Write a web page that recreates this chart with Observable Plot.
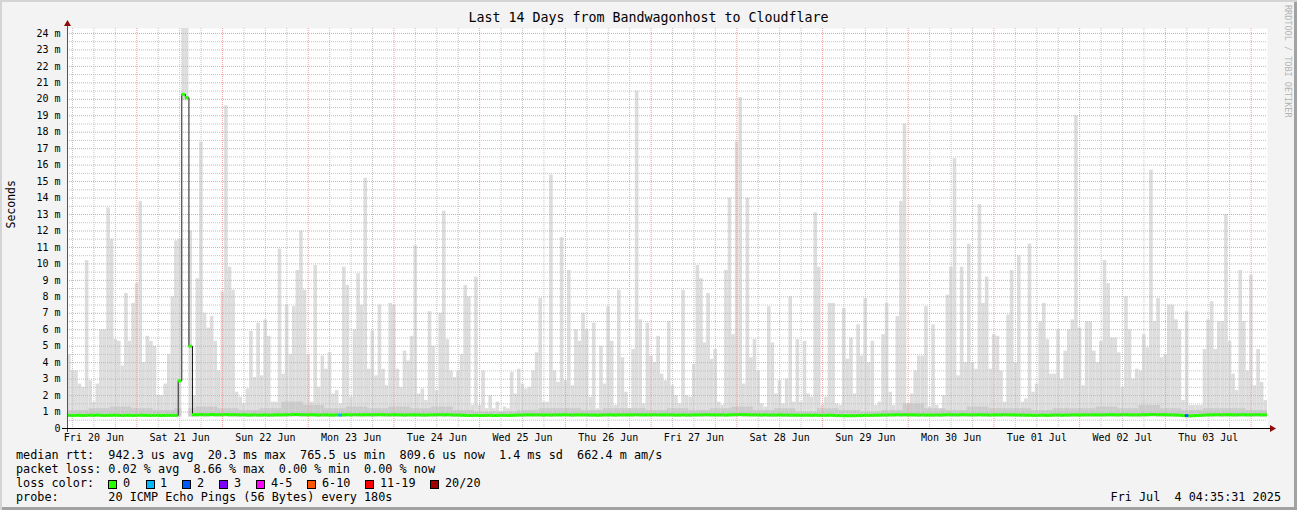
<!DOCTYPE html>
<html><head><meta charset="utf-8">
<script src="https://cdn.jsdelivr.net/npm/d3@7"></script>
<script src="https://cdn.jsdelivr.net/npm/@observablehq/plot@0.6"></script>
<style>
html,body{margin:0;padding:0;background:#f3f3f3;}
#wrap{position:relative;width:1297px;height:510px;background:#f3f3f3;overflow:hidden;
  box-shadow: inset 2px 2px 0 #d4d4d4, inset -3px -3px 0 #a2a2a2;
  font-family:"DejaVu Sans Mono",monospace;color:#000;}
#chart{position:absolute;left:0;top:0;}
.t{position:absolute;white-space:pre;font-size:11.8px;line-height:14px;}
#title{position:absolute;left:0;width:1297px;top:10px;text-align:center;font-size:13.3px;line-height:16px;white-space:pre;}
#rrd{position:absolute;left:1283px;top:5px;writing-mode:vertical-rl;font-size:8.5px;line-height:10px;color:#b4b4b4;white-space:pre;}
.box{position:absolute;top:480px;width:7px;height:7px;border:1px solid #000;}
</style></head>
<body><div id="wrap">
<div id="title">Last 14 Days from Bandwagonhost to Cloudflare</div>
<div id="rrd">RRDTOOL / TOBI OETIKER</div>
<div id="chart"></div>
<div id="legend"></div>
</div>
<script>
// ---- data (hourly, starting Fri 20 Jun 04:35:31) ----
const startISO = "2025-06-20T04:35:31Z";
const endISO = "2025-07-04T04:35:31Z";

const smokeMax = [
4.5,3.5,3.5,2.7,2.5,10.2,2.9,1.6,2.7,6.0,
6.0,13.4,11.5,5.4,5.3,3.8,8.2,5.3,7.6,8.8,
13.8,4.0,5.6,5.3,5.0,2.0,2.0,2.7,4.5,8.0,
11.4,11.5,26,26,12.0,2.0,9.1,17.4,7.0,6.1,
6.8,5.3,3.5,8.3,19.6,9.8,8.4,2.2,1.9,1.5,
2.4,5.9,3.1,6.4,3.2,6.6,5.6,1.6,1.6,10.9,
3.3,7.5,4.5,7.4,9.6,12.0,8.4,4.5,1.6,9.9,
2.5,4.4,3.6,4.6,2.1,2.3,1.5,9.8,8.7,1.9,
6.0,9.4,7.5,15.2,3.6,5.9,3.2,7.5,3.6,2.6,
7.6,7.5,3.6,2.5,4.7,4.1,5.6,11.1,2.1,2.4,
1.7,7.1,5.0,2.3,7.0,13.2,5.4,3.5,3.1,3.5,
4.5,8.7,8.0,1.4,9.2,1.4,3.5,1.2,2.0,1.2,
1.6,1.0,1.3,1.2,3.4,2.1,3.6,2.7,2.4,2.5,
3.5,4.6,7.9,1.6,1.6,15.4,3.5,2.8,11.6,2.9,
9.6,2.6,6.0,5.3,7.0,6.0,1.9,6.4,1.2,5.0,
2.7,7.4,5.3,1.4,8.4,4.3,2.2,1.1,4.8,20.5,
6.6,1.5,6.4,4.4,4.0,5.6,3.3,2.9,6.5,2.6,
2.0,1.5,8.4,2.0,1.9,3.9,9.9,9.1,5.2,8.2,
4.2,4.8,1.6,1.4,9.6,14.0,5.7,17.4,20.1,2.7,
14.0,4.3,5.4,3.5,1.5,1.3,7.4,5.2,2.1,2.9,
1.5,3.0,8.0,1.6,5.4,1.6,5.3,2.1,1.9,13.1,
9.8,1.4,1.9,7.6,7.6,1.5,1.4,7.3,4.2,5.5,
2.1,6.3,4.4,7.9,4.0,5.3,1.4,1.6,5.7,7.6,
2.2,1.4,6.8,13.8,18.5,1.4,2.1,3.5,4.4,4.4,
7.4,1.3,6.3,1.4,1.1,2.0,8.1,9.8,16.4,3.2,
9.8,4.0,11.2,4.0,3.6,13.6,7.6,9.2,3.6,5.7,
5.6,3.5,1.6,6.9,9.6,4.0,10.5,1.6,1.8,11.2,
2.2,2.7,6.5,7.6,5.4,3.3,3.3,6.0,3.0,4.7,
6.0,6.6,19.0,6.1,2.6,6.5,6.5,4.7,4.0,5.3,
10.2,8.8,5.5,5.5,4.6,2.5,8.0,6.0,3.0,3.6,
3.5,5.7,4.9,15.7,6.5,7.9,4.3,4.5,7.5,7.5,
6.6,6.0,1.7,7.1,1.4,1.4,1.4,1.4,4.8,6.6,
7.7,4.8,6.5,6.5,13.0,5.3,3.3,2.3,9.6,6.5,
3.5,9.3,2.6,4.8,2.8,1.7
];

const smokeMin = [
0.68,0.68,0.69,0.68,0.68,0.67,0.68,0.68,0.69,0.68,0.68,0.68,
0.68,0.69,0.68,0.68,0.67,0.68,0.68,0.68,0.69,0.68,0.68,0.67,
0.68,0.68,0.68,0.67,0.68,0.68,0.68,0.70,19.9,19.9,0.70,0.70,
0.70,0.71,0.70,0.70,0.71,0.70,0.70,0.70,0.71,0.70,0.70,0.70,
0.69,0.70,0.69,0.69,0.70,0.69,0.69,0.70,0.69,0.69,0.70,0.70,
0.70,0.70,0.71,0.71,0.71,0.70,0.70,0.70,0.70,0.70,0.69,0.70,
0.70,0.69,0.69,0.70,0.69,0.70,0.70,0.70,0.71,0.70,0.70,0.70,
0.70,0.70,0.70,0.71,0.70,0.70,0.70,0.70,0.70,0.70,0.69,0.70,
0.70,0.70,0.70,0.69,0.69,0.70,0.70,0.70,0.71,0.70,0.70,0.70,
0.69,0.69,0.68,0.67,0.67,0.67,0.67,0.67,0.67,0.67,0.67,0.67,
0.67,0.67,0.67,0.67,0.67,0.68,0.69,0.69,0.70,0.70,0.70,0.70,
0.70,0.69,0.70,0.69,0.70,0.70,0.70,0.70,0.70,0.69,0.70,0.70,
0.70,0.70,0.69,0.69,0.68,0.69,0.70,0.70,0.70,0.69,0.70,0.70,
0.70,0.70,0.70,0.71,0.70,0.70,0.70,0.70,0.70,0.70,0.70,0.70,
0.70,0.70,0.69,0.69,0.70,0.69,0.69,0.70,0.70,0.70,0.70,0.70,
0.70,0.70,0.70,0.70,0.69,0.70,0.70,0.71,0.71,0.70,0.70,0.70,
0.70,0.70,0.69,0.70,0.69,0.69,0.69,0.70,0.69,0.69,0.68,0.68,
0.68,0.67,0.68,0.68,0.67,0.68,0.67,0.67,0.67,0.68,0.67,0.66,
0.66,0.66,0.66,0.66,0.66,0.66,0.66,0.67,0.67,0.67,0.68,0.68,
0.69,0.69,0.70,0.70,0.70,0.70,0.70,0.70,0.70,0.70,0.69,0.70,
0.69,0.69,0.69,0.70,0.69,0.70,0.70,0.70,0.70,0.70,0.70,0.70,
0.70,0.70,0.70,0.70,0.70,0.70,0.69,0.70,0.70,0.70,0.70,0.70,
0.70,0.70,0.69,0.69,0.68,0.68,0.67,0.67,0.68,0.68,0.67,0.68,
0.69,0.69,0.68,0.69,0.69,0.70,0.70,0.69,0.70,0.70,0.70,0.70,
0.70,0.70,0.70,0.70,0.70,0.70,0.70,0.70,0.70,0.70,0.70,0.70,
0.70,0.70,0.70,0.71,0.71,0.70,0.70,0.70,0.70,0.70,0.69,0.68,
0.66,0.66,0.65,0.66,0.66,0.67,0.69,0.70,0.70,0.70,0.70,0.70,
0.70,0.70,0.70,0.70,0.70,0.70,0.70,0.70,0.70,0.70,0.70,0.70
];

const median = [
0.80,0.79,0.80,0.80,0.79,0.80,0.81,0.80,0.82,0.80,0.79,0.80,
0.80,0.81,0.80,0.79,0.80,0.80,0.79,0.80,0.81,0.80,0.80,0.79,
0.80,0.80,0.79,0.80,0.80,0.80,0.80,2.90,20.3,20.1,5.00,0.84,
0.84,0.85,0.84,0.84,0.85,0.84,0.84,0.84,0.85,0.84,0.84,0.84,
0.83,0.84,0.82,0.82,0.83,0.82,0.82,0.83,0.82,0.82,0.83,0.83,
0.83,0.84,0.84,0.85,0.85,0.84,0.84,0.83,0.84,0.83,0.82,0.83,
0.83,0.82,0.82,0.83,0.82,0.83,0.84,0.83,0.84,0.84,0.83,0.84,
0.84,0.83,0.84,0.84,0.84,0.83,0.83,0.84,0.83,0.83,0.82,0.83,
0.83,0.83,0.83,0.82,0.82,0.83,0.83,0.84,0.84,0.83,0.84,0.83,
0.82,0.82,0.81,0.80,0.79,0.79,0.80,0.79,0.79,0.80,0.80,0.79,
0.79,0.80,0.80,0.79,0.80,0.81,0.82,0.82,0.83,0.83,0.83,0.83,
0.83,0.82,0.83,0.82,0.83,0.83,0.83,0.84,0.83,0.82,0.83,0.83,
0.83,0.83,0.82,0.82,0.81,0.82,0.83,0.83,0.83,0.82,0.83,0.83,
0.83,0.83,0.83,0.84,0.83,0.83,0.83,0.83,0.84,0.83,0.83,0.83,
0.83,0.83,0.82,0.82,0.83,0.82,0.82,0.83,0.83,0.83,0.84,0.84,
0.83,0.83,0.83,0.83,0.82,0.83,0.84,0.84,0.85,0.84,0.84,0.83,
0.83,0.83,0.82,0.83,0.82,0.82,0.82,0.83,0.82,0.82,0.81,0.81,
0.81,0.80,0.81,0.81,0.80,0.81,0.80,0.80,0.80,0.81,0.80,0.79,
0.79,0.78,0.78,0.78,0.78,0.79,0.79,0.80,0.80,0.80,0.81,0.81,
0.82,0.82,0.83,0.83,0.84,0.83,0.84,0.83,0.83,0.83,0.82,0.83,
0.82,0.82,0.82,0.83,0.82,0.83,0.84,0.84,0.83,0.83,0.84,0.84,
0.83,0.83,0.83,0.84,0.83,0.83,0.82,0.83,0.83,0.83,0.84,0.83,
0.83,0.83,0.82,0.82,0.81,0.81,0.80,0.80,0.81,0.81,0.80,0.81,
0.82,0.82,0.81,0.82,0.82,0.83,0.83,0.82,0.83,0.83,0.83,0.83,
0.83,0.83,0.83,0.84,0.84,0.83,0.83,0.84,0.84,0.83,0.83,0.83,
0.83,0.84,0.84,0.85,0.85,0.84,0.84,0.84,0.83,0.83,0.82,0.81,
0.79,0.78,0.77,0.78,0.79,0.80,0.82,0.83,0.83,0.84,0.84,0.83,
0.84,0.84,0.83,0.83,0.84,0.84,0.83,0.83,0.84,0.84,0.83,0.83
];

// inner (darker) smoke band top, one value per 6 hours
const innerSmoke = [
1.1,1.2,1.3,1.2, 1.1,1.2,1.3,1.2, 1.1,1.2,1.6,1.4,
1.2,1.3,1.2,1.3, 1.2,1.3,1.1,1.0, 1.0,1.1,1.2,1.2,
1.1,1.2,1.2,1.1, 1.2,1.1,1.2,1.3, 1.1,1.2,1.0,1.2,
1.1,1.0,1.1,1.5, 1.2,1.1,1.3,1.2, 1.2,1.1,1.2,1.2,
1.3,1.2,1.4,1.2, 1.1,1.2,1.2,1.1
];

// hours with packet loss (count of lost pings out of 20)
const lossHour = [76, 313];
const lossCount = [1, 2];

const dayLabels = ["Fri 20 Jun","Sat 21 Jun","Sun 22 Jun","Mon 23 Jun","Tue 24 Jun","Wed 25 Jun","Thu 26 Jun",
  "Fri 27 Jun","Sat 28 Jun","Sun 29 Jun","Mon 30 Jun","Tue 01 Jul","Wed 02 Jul","Thu 03 Jul"];
const dayDates = ["2025-06-20","2025-06-21","2025-06-22","2025-06-23","2025-06-24","2025-06-25","2025-06-26",
  "2025-06-27","2025-06-28","2025-06-29","2025-06-30","2025-07-01","2025-07-02","2025-07-03"];
const yTicks = [0,1,2,3,4,5,6,7,8,9,10,11,12,13,14,15,16,17,18,19,20,21,22,23,24];
const yTickLabels = ["0","1 m","2 m","3 m","4 m","5 m","6 m","7 m","8 m","9 m","10 m","11 m","12 m","13 m",
  "14 m","15 m","16 m","17 m","18 m","19 m","20 m","21 m","22 m","23 m","24 m"];
const yTop = 24.3;

const lossNames = ["0","1","2","3","4-5","6-10","11-19","20/20"];
const lossColors = ["#26ff00","#00b8ff","#0059ff","#7e00ff","#ff00ff","#ff5500","#ff0000","#a10000"];

const statLines = [
  "median rtt:  942.3 us avg  20.3 ms max  765.5 us min  809.6 us now  1.4 ms sd  662.4 m am/s",
  "packet loss: 0.02 % avg  8.66 % max  0.00 % min  0.00 % now",
  "loss color:",
  "probe:       20 ICMP Echo Pings (56 Bytes) every 180s"
];
const stamp = "Fri Jul  4 04:35:31 2025";

// ---- build ----
const start = new Date(startISO), end = new Date(endISO);
const H = 3600e3;
const lossMap = new Map(lossHour.map((h, i) => [h, lossCount[i]]));
function lossBucket(c) { return c === 0 ? 0 : c === 1 ? 1 : c === 2 ? 2 : c === 3 ? 3 : c <= 5 ? 4 : c <= 10 ? 5 : c <= 19 ? 6 : 7; }
const rows = smokeMax.map((hi, i) => ({
  t0: new Date(+start + i * H), t1: new Date(+start + (i + 1) * H),
  lo: smokeMin[i], hi, med: median[i], loss: lossMap.get(i) ?? 0,
  inner: innerSmoke[Math.floor(i / 6)]
}));
const innerRows = rows.filter(r => r.inner > r.lo && r.lo < 5);
const medPts = rows.map(r => ({t: r.t0, v: r.med})).concat([{t: end, v: median[median.length - 1]}]);

const dayTicks = dayDates.map(s => new Date(s + "T12:00:00Z"));
const dayMap = new Map(dayTicks.map((d, i) => [+d, dayLabels[i]]));
const yMap = new Map(yTicks.map((d, i) => [d, yTickLabels[i]]));
const midnights = d3.utcDay.range(start, end);
const sixHours = d3.utcHour.every(6).range(start, end).filter(d => d.getUTCHours() !== 0);
const yMinor = d3.range(0.5, yTop, 1);
const yMajor = yTicks.filter(d => d > 0);

const chart = Plot.plot({
  width: 1297, height: 450,
  marginLeft: 67, marginRight: 30, marginTop: 28, marginBottom: 22,
  style: {background: "transparent", fontFamily: "DejaVu Sans Mono", fontSize: "10px", color: "#000", overflow: "visible"},
  x: {type: "utc", domain: [start, end], ticks: dayTicks, tickFormat: d => dayMap.get(+d), tickSize: 0, tickPadding: 5, label: null},
  y: {domain: [0, yTop], ticks: yTicks, tickFormat: d => yMap.get(d), tickSize: 0, tickPadding: 7, label: null},
  marks: [
    Plot.frame({fill: "white", stroke: null}),
    Plot.rectY(rows, {x1: "t0", x2: "t1", y1: "lo", y2: "hi", fill: "#dddddd", clip: true}),
    Plot.rectY(innerRows, {x1: "t0", x2: "t1", y1: "lo", y2: "inner", fill: "#cbcbcb", clip: true}),
    Plot.ruleY(yMinor, {stroke: "#c4c4c4", strokeDasharray: "1,1", strokeWidth: 1}),
    Plot.ruleX(sixHours, {stroke: "#c4c4c4", strokeDasharray: "1,1", strokeWidth: 1}),
    Plot.ruleY(yMajor, {stroke: "#f0a0a0", strokeDasharray: "1,1", strokeWidth: 1}),
    Plot.ruleX(midnights, {stroke: "#f0a0a0", strokeDasharray: "1,1", strokeWidth: 1}),
    Plot.line(medPts, {x: "t", y: "v", curve: "step-after", stroke: "#202020", strokeWidth: 1, clip: true}),
    Plot.ruleY(rows, {x1: "t0", x2: "t1", y: "med", stroke: d => lossColors[lossBucket(d.loss)], strokeWidth: 3}),
    Plot.ruleX([start], {stroke: "#555", strokeWidth: 1, insetTop: -6, insetBottom: -4}),
    Plot.ruleY([0], {stroke: "#000", strokeWidth: 1, insetLeft: -5, insetRight: -3}),
    Plot.dot([start], {x: d => d, y: () => yTop, symbol: "triangle", r: 2.6, fill: "#8e0b0b", stroke: null, dy: -4.5}),
    Plot.dot([end], {x: d => d, y: () => 0, symbol: "triangle", r: 2.6, fill: "#8e0b0b", stroke: null, rotate: 90, dx: 4.5}),
    Plot.text(["Seconds"], {frameAnchor: "left", dx: -56, rotate: -90, fontSize: 11.5, fontFamily: "DejaVu Sans Mono", fill: "#000"})
  ]
});
document.getElementById("chart").appendChild(chart);

// ---- legend ----
const lg = document.getElementById("legend");
const tops = [448, 462, 476, 490];
statLines.forEach((s, i) => {
  const d = document.createElement("div");
  d.className = "t"; d.style.left = "16px"; d.style.top = tops[i] + "px"; d.textContent = s;
  lg.appendChild(d);
});
const boxLeft = [108, 146, 182, 219, 256, 307, 365, 430];
const labLeft = [123, 160, 197, 234, 271, 322, 380, 445];
lossNames.forEach((n, i) => {
  const b = document.createElement("div");
  b.className = "box"; b.style.left = boxLeft[i] + "px"; b.style.background = lossColors[i];
  lg.appendChild(b);
  const t = document.createElement("div");
  t.className = "t"; t.style.left = labLeft[i] + "px"; t.style.top = "476px"; t.textContent = n;
  lg.appendChild(t);
});
const st = document.createElement("div");
st.className = "t"; st.style.right = "16px"; st.style.top = "490px"; st.textContent = stamp;
lg.appendChild(st);
</script>
</body></html>
